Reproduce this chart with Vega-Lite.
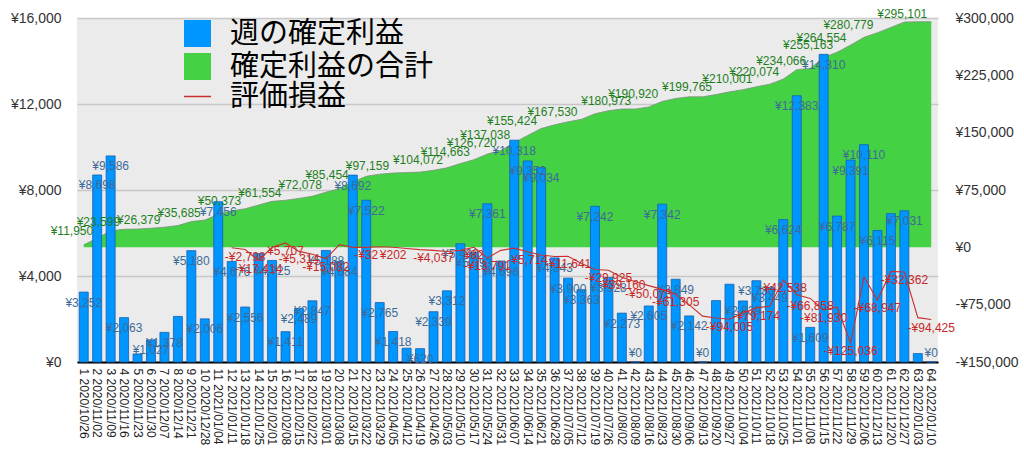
{
  "$schema": "https://vega.github.io/schema/vega-lite/v6.json",
  "width": 861,
  "height": 344,
  "autosize": {"type": "none"},
  "padding": {"left": 77, "top": 18, "right": 86, "bottom": 106},
  "config": {
    "locale": {"number": {"decimal": ".", "thousands": ",", "grouping": [3], "currency": ["¥", ""], "minus": "-"}},
    "view": {"stroke": null, "fill": "#EBEBEB"},
    "font": "Liberation Sans",
    "axis": {"labelFont": "Liberation Sans", "labelColor": "#333333", "ticks": false, "domain": false, "grid": false, "title": null}
  },
  "data": {"values": [
    {"w":1,"label":"1 2020/10/26","value":3252,"cum":3252,"pl":null},
    {"w":2,"label":"2 2020/11/02","value":8698,"cum":11950,"pl":null},
    {"w":3,"label":"3 2020/11/09","value":9586,"cum":21536,"pl":null},
    {"w":4,"label":"4 2020/11/16","value":2063,"cum":23599,"pl":null},
    {"w":5,"label":"5 2020/11/23","value":375,"cum":23974,"pl":null},
    {"w":6,"label":"6 2020/11/30","value":1027,"cum":25001,"pl":null},
    {"w":7,"label":"7 2020/12/07","value":1378,"cum":26379,"pl":null},
    {"w":8,"label":"8 2020/12/14","value":2120,"cum":28499,"pl":null},
    {"w":9,"label":"9 2020/12/21","value":5180,"cum":33679,"pl":null},
    {"w":10,"label":"10 2020/12/28","value":2006,"cum":35685,"pl":null},
    {"w":11,"label":"11 2021/01/04","value":7456,"cum":43141,"pl":null},
    {"w":12,"label":"12 2021/01/11","value":4676,"cum":47817,"pl":-500},
    {"w":13,"label":"13 2021/01/18","value":2556,"cum":50373,"pl":-2798},
    {"w":14,"label":"14 2021/01/25","value":5045,"cum":55418,"pl":-17414},
    {"w":15,"label":"15 2021/02/01","value":4725,"cum":60143,"pl":0},
    {"w":16,"label":"16 2021/02/08","value":1411,"cum":61554,"pl":5707},
    {"w":17,"label":"17 2021/02/15","value":2489,"cum":64043,"pl":-5314},
    {"w":18,"label":"18 2021/02/22","value":2847,"cum":66890,"pl":-9000},
    {"w":19,"label":"19 2021/03/01","value":5188,"cum":72078,"pl":-15082},
    {"w":20,"label":"20 2021/03/08","value":4684,"cum":76762,"pl":3500},
    {"w":21,"label":"21 2021/03/15","value":8692,"cum":85454,"pl":0},
    {"w":22,"label":"22 2021/03/22","value":7522,"cum":92976,"pl":-32},
    {"w":23,"label":"23 2021/03/29","value":2765,"cum":95741,"pl":800},
    {"w":24,"label":"24 2021/04/05","value":1418,"cum":97159,"pl":202},
    {"w":25,"label":"25 2021/04/12","value":642,"cum":97801,"pl":-1500},
    {"w":26,"label":"26 2021/04/19","value":620,"cum":98421,"pl":-3000},
    {"w":27,"label":"27 2021/04/26","value":2339,"cum":100760,"pl":-4037},
    {"w":28,"label":"28 2021/05/03","value":3312,"cum":104072,"pl":-5500},
    {"w":29,"label":"29 2021/05/10","value":5498,"cum":109570,"pl":-4000},
    {"w":30,"label":"30 2021/05/17","value":5093,"cum":114663,"pl":82},
    {"w":31,"label":"31 2021/05/24","value":7361,"cum":122024,"pl":-13791},
    {"w":32,"label":"32 2021/05/31","value":4696,"cum":126720,"pl":-4000},
    {"w":33,"label":"33 2021/06/07","value":10318,"cum":137038,"pl":-1000},
    {"w":34,"label":"34 2021/06/14","value":9352,"cum":146390,"pl":-5714},
    {"w":35,"label":"35 2021/06/21","value":9034,"cum":155424,"pl":-10000},
    {"w":36,"label":"36 2021/06/28","value":4843,"cum":160267,"pl":-12000},
    {"w":37,"label":"37 2021/07/05","value":3900,"cum":164167,"pl":-11641},
    {"w":38,"label":"38 2021/07/12","value":3363,"cum":167530,"pl":-21000},
    {"w":39,"label":"39 2021/07/19","value":7242,"cum":174772,"pl":-29000},
    {"w":40,"label":"40 2021/07/26","value":3928,"cum":178700,"pl":-29925},
    {"w":41,"label":"41 2021/08/02","value":2273,"cum":180973,"pl":-39160},
    {"w":42,"label":"42 2021/08/09","value":0,"cum":180973,"pl":-45000},
    {"w":43,"label":"43 2021/08/16","value":2605,"cum":183578,"pl":-50073},
    {"w":44,"label":"44 2021/08/23","value":7342,"cum":190920,"pl":-55000},
    {"w":45,"label":"45 2021/08/30","value":3849,"cum":194769,"pl":-61305},
    {"w":46,"label":"46 2021/09/06","value":2142,"cum":196911,"pl":-75000},
    {"w":47,"label":"47 2021/09/13","value":0,"cum":196911,"pl":-90000},
    {"w":48,"label":"48 2021/09/20","value":2854,"cum":199765,"pl":-92500},
    {"w":49,"label":"49 2021/09/27","value":3617,"cum":203382,"pl":-94005},
    {"w":50,"label":"50 2021/10/04","value":2839,"cum":206221,"pl":-86000},
    {"w":51,"label":"51 2021/10/11","value":3780,"cum":210001,"pl":-79174},
    {"w":52,"label":"52 2021/10/18","value":3449,"cum":213450,"pl":-77000},
    {"w":53,"label":"53 2021/10/25","value":6624,"cum":220074,"pl":-42538},
    {"w":54,"label":"54 2021/11/01","value":12383,"cum":232457,"pl":-62000},
    {"w":55,"label":"55 2021/11/08","value":1609,"cum":234066,"pl":-66858},
    {"w":56,"label":"56 2021/11/15","value":14310,"cum":248376,"pl":-81930},
    {"w":57,"label":"57 2021/11/22","value":6787,"cum":255163,"pl":-78000},
    {"w":58,"label":"58 2021/11/29","value":9391,"cum":264554,"pl":-125036},
    {"w":59,"label":"59 2021/12/06","value":10110,"cum":274664,"pl":-38900},
    {"w":60,"label":"60 2021/12/13","value":6115,"cum":280779,"pl":-68947},
    {"w":61,"label":"61 2021/12/20","value":6900,"cum":287679,"pl":-31500},
    {"w":62,"label":"62 2021/12/27","value":7031,"cum":294710,"pl":-32362},
    {"w":63,"label":"63 2022/01/03","value":391,"cum":295101,"pl":-92000},
    {"w":64,"label":"64 2022/01/10","value":0,"cum":295101,"pl":-94425}
  ]},
  "encoding": {
    "x": {
      "field": "label", "type": "ordinal", "sort": null,
      "scale": {"paddingInner": 0.33, "paddingOuter": 0.165},
      "axis": {"labelAngle": 90, "labelFontSize": 12, "labelColor": "#222222", "labelPadding": 6, "domain": true, "domainColor": "#000000", "domainWidth": 2, "ticks": false, "title": null, "labelOverlap": false, "grid": false}
    }
  },
  "layer": [
    {
      "encoding": {
        "y": {"field": "cum", "type": "quantitative",
          "scale": {"domain": [-150000, 300000], "nice": false, "zero": false},
          "axis": {"orient": "right", "values": [-150000, -75000, 0, 75000, 150000, 225000, 300000], "format": "$,d", "labelFontSize": 14, "labelPadding": 17, "labelColor": "#333333", "grid": false, "title": null}}
      },
      "layer": [
        {"mark": {"type": "area", "opacity": 1},
         "encoding": {"fill": {"datum": "確定利益の合計", "type": "nominal",
           "scale": {"domain": ["週の確定利益", "確定利益の合計"], "range": ["#0096FF", "#44D144"]},
           "legend": {"orient": "none", "legendX": 106, "legendY": 1, "symbolType": "square", "symbolSize": 729, "labelFontSize": 29, "labelFont": "Noto Sans CJK JP", "labelColor": "#000000", "title": null, "rowPadding": 3, "labelOffset": 18, "labelLimit": 500, "symbolStrokeWidth": 0}}}},
        {"mark": {"type": "line", "color": "#7f8f7f", "strokeWidth": 0.8}, "encoding": {}}
      ]
    },
    {
      "encoding": {
        "y": {"field": "value", "type": "quantitative",
          "scale": {"domain": [0, 16000], "nice": false},
          "axis": {"orient": "left", "values": [0, 4000, 8000, 12000, 16000], "format": "$,d", "labelFontSize": 14, "labelPadding": 16, "labelColor": "#333333", "grid": true, "gridColor": "#C8C8C8", "gridWidth": 1.5, "title": null}}
      },
      "layer": [
        {"mark": {"type": "bar", "stroke": "#1560B0", "strokeWidth": 0.8},
         "encoding": {"fill": {"datum": "週の確定利益", "type": "nominal"}}},
        {"transform": [{"filter": "datum.value > 0"}, {"filter": {"not": {"field": "w", "oneOf": [5, 8, 14, 25, 48, 49, 61, 63]}}}],
         "mark": {"type": "text", "fontSize": 12, "font": "Liberation Sans", "color": "#3D6B99", "baseline": "alphabetic", "align": "center", "dy": 14.5},
         "encoding": {"text": {"field": "value", "type": "quantitative", "format": "$,d"}}},
        {"transform": [{"filter": "datum.value == 0"}],
         "mark": {"type": "text", "fontSize": 12, "font": "Liberation Sans", "color": "#3D6B99", "baseline": "alphabetic", "align": "center", "dy": -5.5},
         "encoding": {"text": {"field": "value", "type": "quantitative", "format": "$,d"}}}
      ]
    },
    {
      "layer": [
        {"transform": [{"filter": "datum.pl != null"}],
         "mark": {"type": "line", "strokeWidth": 1.1},
         "encoding": {
           "y": {"field": "pl", "type": "quantitative", "scale": {"domain": [-150000, 300000], "nice": false, "zero": false}, "axis": null},
           "stroke": {"datum": "評価損益", "type": "nominal",
             "scale": {"domain": ["評価損益"], "range": ["#C83030"]},
             "legend": {"orient": "none", "legendX": 106, "legendY": 64, "symbolType": "stroke", "symbolSize": 729, "symbolStrokeWidth": 1.5, "labelFontSize": 29, "labelFont": "Noto Sans CJK JP", "labelColor": "#000000", "title": null, "labelOffset": 18, "labelLimit": 500}}}},
        {"transform": [{"filter": {"field": "w", "oneOf": [2, 4, 7, 10, 13, 16, 19, 21, 24, 28, 30, 32, 33, 35, 38, 42, 44, 48, 51, 53, 55, 57, 58, 60, 64]}}],
         "mark": {"type": "text", "fontSize": 12, "font": "Liberation Sans", "color": "#1E7F1E", "baseline": "alphabetic", "align": "right", "dx": -4, "dy": -3.5},
         "encoding": {
           "y": {"field": "cum", "type": "quantitative"},
           "text": {"field": "cum", "type": "quantitative", "format": "$,d"}}},
        {"transform": [{"filter": {"field": "w", "oneOf": [13, 14, 16, 17, 19, 22, 24, 27, 30, 31, 34, 37, 40, 41, 43, 45, 49, 51, 53, 55, 56, 58, 60, 62, 64]}}],
         "mark": {"type": "text", "fontSize": 12, "font": "Liberation Sans", "color": "#C82828", "baseline": "alphabetic", "align": "center", "dy": 12},
         "encoding": {
           "y": {"field": "pl", "type": "quantitative"},
           "text": {"field": "pl", "type": "quantitative", "format": "$,d"}}}
      ]
    }
  ],
  "resolve": {"scale": {"y": "independent"}}
}
